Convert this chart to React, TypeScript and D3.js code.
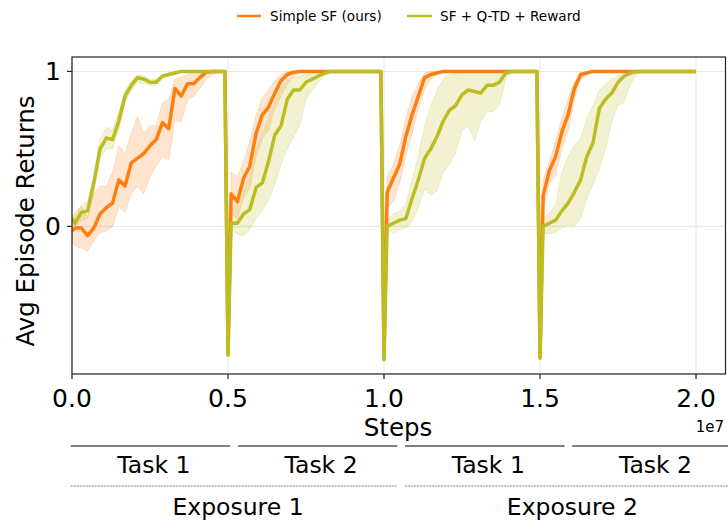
import React from "react";
import * as d3 from "d3";

// ---------- DATA ----------
// sampling grid within one task (in 1e6 steps)
const TASK_GRID = [0, 0.1, 0.3, 0.5, 0.7, 0.9, 1.1, 1.3, 1.5, 1.7, 1.9, 2.1, 2.3, 2.5, 2.7, 2.9, 3.1, 3.3, 3.5, 3.7, 3.9, 4.1, 4.3, 4.5, 4.7, 4.9];
const TASK_LENGTH = 5; // 1e6 steps per task
const END_STEP = 20; // 1e6
const END_VALUE = 1;

// Simple SF (ours)
const SF_MEAN = [
  [-0.03, -0.01, -0.01, -0.06, -0.01, 0.08, 0.12, 0.15, 0.30, 0.26, 0.41, 0.44, 0.47, 0.52, 0.56, 0.67, 0.63, 0.89, 0.84, 0.92, 0.92, 0.96, 0.995, 1, 1, 1],
  [-0.83, 0.21, 0.16, 0.31, 0.39, 0.60, 0.72, 0.77, 0.86, 0.94, 0.98, 0.995, 1, 1, 1, 1, 1, 1, 1, 1, 1, 1, 1, 1, 1, 1],
  [-0.86, 0.22, 0.31, 0.40, 0.58, 0.72, 0.84, 0.96, 0.98, 0.99, 1, 1, 1, 1, 1, 1, 1, 1, 1, 1, 1, 1, 1, 1, 1, 1],
  [-0.85, 0.20, 0.36, 0.45, 0.61, 0.72, 0.89, 0.98, 0.99, 1, 1, 1, 1, 1, 1, 1, 1, 1, 1, 1, 1, 1, 1, 1, 1, 1],
];
const SF_HI = [
  [0.06, 0.09, 0.13, 0.06, 0.21, 0.26, 0.26, 0.35, 0.52, 0.47, 0.60, 0.71, 0.60, 0.65, 0.65, 0.80, 0.82, 0.95, 0.96, 0.98, 0.99, 1, 1, 1, 1, 1],
  [-0.83, 0.35, 0.32, 0.42, 0.55, 0.72, 0.83, 0.88, 0.94, 0.98, 1, 1, 1, 1, 1, 1, 1, 1, 1, 1, 1, 1, 1, 1, 1, 1],
  [-0.86, 0.32, 0.40, 0.52, 0.70, 0.84, 0.92, 0.99, 1, 1, 1, 1, 1, 1, 1, 1, 1, 1, 1, 1, 1, 1, 1, 1, 1, 1],
  [-0.85, 0.30, 0.42, 0.55, 0.70, 0.82, 0.93, 0.99, 1, 1, 1, 1, 1, 1, 1, 1, 1, 1, 1, 1, 1, 1, 1, 1, 1, 1],
];
const SF_LO = [
  [-0.09, -0.13, -0.14, -0.16, -0.09, -0.04, -0.03, 0.0, 0.13, 0.09, 0.21, 0.26, 0.21, 0.32, 0.39, 0.45, 0.43, 0.69, 0.67, 0.82, 0.84, 0.89, 0.95, 0.98, 1, 1],
  [-0.83, 0.08, 0.05, 0.18, 0.25, 0.45, 0.57, 0.62, 0.76, 0.84, 0.92, 0.97, 0.99, 1, 1, 1, 1, 1, 1, 1, 1, 1, 1, 1, 1, 1],
  [-0.86, 0.12, 0.16, 0.28, 0.45, 0.60, 0.76, 0.88, 0.95, 0.98, 1, 1, 1, 1, 1, 1, 1, 1, 1, 1, 1, 1, 1, 1, 1, 1],
  [-0.85, 0.12, 0.28, 0.33, 0.50, 0.62, 0.82, 0.95, 0.98, 1, 1, 1, 1, 1, 1, 1, 1, 1, 1, 1, 1, 1, 1, 1, 1, 1],
];

// SF + Q-TD + Reward
const QTD_MEAN = [
  [0.05, 0.02, 0.09, 0.10, 0.28, 0.50, 0.57, 0.56, 0.68, 0.84, 0.91, 0.96, 0.95, 0.93, 0.93, 0.97, 0.98, 0.99, 1, 1, 1, 1, 1, 1, 1, 1],
  [-0.83, 0.02, 0.02, 0.08, 0.11, 0.25, 0.28, 0.42, 0.59, 0.65, 0.82, 0.88, 0.88, 0.93, 0.95, 0.97, 0.99, 1, 1, 1, 1, 1, 1, 1, 1, 1],
  [-0.86, 0.0, 0.02, 0.04, 0.05, 0.18, 0.30, 0.44, 0.50, 0.58, 0.68, 0.75, 0.78, 0.85, 0.88, 0.87, 0.86, 0.91, 0.91, 0.93, 0.99, 1, 1, 1, 1, 1],
  [-0.85, 0.0, 0.02, 0.04, 0.10, 0.15, 0.22, 0.30, 0.45, 0.54, 0.76, 0.82, 0.86, 0.93, 0.97, 0.99, 1, 1, 1, 1, 1, 1, 1, 1, 1, 1],
];
const QTD_HI = [
  [0.07, 0.06, 0.14, 0.16, 0.34, 0.56, 0.64, 0.62, 0.74, 0.88, 0.94, 0.98, 0.97, 0.95, 0.95, 0.98, 0.99, 1, 1, 1, 1, 1, 1, 1, 1, 1],
  [-0.83, 0.10, 0.15, 0.22, 0.32, 0.50, 0.60, 0.70, 0.80, 0.90, 0.94, 0.96, 0.97, 0.98, 0.99, 1, 1, 1, 1, 1, 1, 1, 1, 1, 1, 1],
  [-0.86, 0.04, 0.08, 0.10, 0.14, 0.30, 0.45, 0.65, 0.78, 0.88, 0.95, 0.98, 0.99, 1, 1, 1, 1, 1, 1, 1, 1, 1, 1, 1, 1, 1],
  [-0.85, 0.05, 0.09, 0.14, 0.35, 0.45, 0.52, 0.57, 0.70, 0.78, 0.88, 0.92, 0.95, 0.97, 0.99, 1, 1, 1, 1, 1, 1, 1, 1, 1, 1, 1],
];
const QTD_LO = [
  [0.02, -0.01, 0.04, 0.05, 0.22, 0.44, 0.50, 0.50, 0.62, 0.80, 0.87, 0.93, 0.92, 0.91, 0.91, 0.96, 0.97, 0.98, 1, 1, 1, 1, 1, 1, 1, 1],
  [-0.83, -0.02, -0.05, -0.06, -0.02, 0.05, 0.10, 0.17, 0.27, 0.40, 0.50, 0.58, 0.65, 0.82, 0.88, 0.93, 0.97, 0.99, 1, 1, 1, 1, 1, 1, 1, 1],
  [-0.86, -0.03, -0.04, -0.02, -0.01, 0.03, 0.12, 0.24, 0.20, 0.23, 0.35, 0.40, 0.48, 0.62, 0.65, 0.55, 0.68, 0.74, 0.74, 0.78, 0.95, 1, 1, 1, 1, 1],
  [-0.85, -0.04, -0.05, -0.04, -0.01, 0.01, 0.0, 0.05, 0.18, 0.27, 0.37, 0.50, 0.68, 0.78, 0.80, 0.92, 0.98, 1, 1, 1, 1, 1, 1, 1, 1, 1],
];

const X_TICKS = [0, 0.5e7, 1.0e7, 1.5e7, 2.0e7];
const Y_TICKS = [0, 1];
const TASK_LABELS = ["Task 1", "Task 2", "Task 1", "Task 2"];
const EXPOSURE_LABELS = ["Exposure 1", "Exposure 2"];
const SERIES_NAMES = ["Simple SF (ours)", "SF + Q-TD + Reward"];
const COLORS = ["#ff7f0e", "#bcbd22"];

type Pt = { x: number; m: number; lo: number; hi: number };

function buildSeries(mean: number[][], lo: number[][], hi: number[][]): Pt[] {
  const pts: Pt[] = [];
  mean.forEach((task, t) => {
    task.forEach((v, i) => {
      pts.push({ x: (t * TASK_LENGTH + TASK_GRID[i]) * 1e6, m: v, lo: lo[t][i], hi: hi[t][i] });
    });
  });
  pts.push({ x: END_STEP * 1e6, m: END_VALUE, lo: END_VALUE, hi: END_VALUE });
  return pts;
}

const FONT = "DejaVu Sans";

export default function App() {
  const left = 72, right = 725.5, top = 57, bottom = 374;
  const x = d3.scaleLinear().domain([0, 2.0945e7]).range([left, right]);
  const y = d3.scaleLinear().domain([-0.953, 1.093]).range([bottom, top]);

  const series = [buildSeries(SF_MEAN, SF_LO, SF_HI), buildSeries(QTD_MEAN, QTD_LO, QTD_HI)];
  const line = d3.line<Pt>().x((d) => x(d.x)).y((d) => y(d.m));
  const area = d3.area<Pt>().x((d) => x(d.x)).y0((d) => y(d.lo)).y1((d) => y(d.hi));

  // annotation layout (figure coordinates)
  const annStart = 70.7, annPitch = 167.2, segLen = 159.4;

  return (
    <svg width={728} height={525} style={{ position: "absolute", left: 0, top: 0 }} fontFamily={FONT}>
      <rect width={728} height={525} fill="#fff" />
      <defs>
        <clipPath id="plot">
          <rect x={left} y={top} width={right - left} height={bottom - top} />
        </clipPath>
      </defs>
      {/* grid */}
      {X_TICKS.map((t) => (
        <line key={"gx" + t} x1={x(t)} x2={x(t)} y1={top} y2={bottom} stroke="#e6e6e6" strokeWidth={1} />
      ))}
      {Y_TICKS.map((t) => (
        <line key={"gy" + t} x1={left} x2={right} y1={y(t)} y2={y(t)} stroke="#e6e6e6" strokeWidth={1} />
      ))}
      <g clipPath="url(#plot)">
        {series.map((s, i) => (
          <path key={"a" + i} d={area(s) || ""} fill={COLORS[i]} fillOpacity={0.2} stroke={COLORS[i]} strokeOpacity={0.2} strokeWidth={1} />
        ))}
        {series.map((s, i) => (
          <path key={"l" + i} d={line(s) || ""} fill="none" stroke={COLORS[i]} strokeWidth={3.5} strokeLinejoin="round" />
        ))}
      </g>
      {/* spines */}
      <rect x={left} y={top} width={right - left} height={bottom - top} fill="none" stroke="#222" strokeWidth={1.2} />
      {/* x ticks */}
      {X_TICKS.map((t) => (
        <g key={"xt" + t}>
          <line x1={x(t)} x2={x(t)} y1={bottom} y2={bottom + 5} stroke="#222" strokeWidth={1.2} />
          <text x={x(t)} y={406.5} textAnchor="middle" fontSize={25} fill="#000">
            {(t / 1e7).toFixed(1)}
          </text>
        </g>
      ))}
      {Y_TICKS.map((t) => (
        <g key={"yt" + t}>
          <line x1={left - 5} x2={left} y1={y(t)} y2={y(t)} stroke="#222" strokeWidth={1.2} />
          <text x={61} y={y(t)} dy="0.36em" textAnchor="end" fontSize={25} fill="#000">
            {t}
          </text>
        </g>
      ))}
      <text x={398} y={436} textAnchor="middle" fontSize={24.5}>Steps</text>
      <text x={724} y={432} textAnchor="end" fontSize={15}>1e7</text>
      <text transform={`translate(33.5, 221) rotate(-90)`} textAnchor="middle" fontSize={24.5}>
        Avg Episode Returns
      </text>
      {/* legend */}
      <line x1={237} x2={261} y1={16} y2={16} stroke={COLORS[0]} strokeWidth={2.5} />
      <text x={270} y={21} fontSize={13.6}>{SERIES_NAMES[0]}</text>
      <line x1={407} x2={432} y1={16} y2={16} stroke={COLORS[1]} strokeWidth={2.5} />
      <text x={440} y={21} fontSize={13.6}>{SERIES_NAMES[1]}</text>
      {/* task annotations */}
      {TASK_LABELS.map((lab, i) => {
        const x0 = annStart + i * annPitch;
        return (
          <g key={"task" + i}>
            <line x1={x0} x2={x0 + segLen} y1={446} y2={446} stroke="#808080" strokeWidth={2} />
            <text x={x0 + segLen / 2 + 3.5} y={472.5} textAnchor="middle" fontSize={23.5}>{lab}</text>
          </g>
        );
      })}
      {EXPOSURE_LABELS.map((lab, i) => {
        const x0 = annStart + i * 2 * annPitch;
        const len = annPitch + segLen;
        return (
          <g key={"exp" + i}>
            <line x1={x0} x2={x0 + len} y1={486} y2={486} stroke="#808080" strokeWidth={1} strokeDasharray="2,1" />
            <text x={x0 + len / 2 + 4} y={515} textAnchor="middle" fontSize={23.5}>{lab}</text>
          </g>
        );
      })}
    </svg>
  );
}
